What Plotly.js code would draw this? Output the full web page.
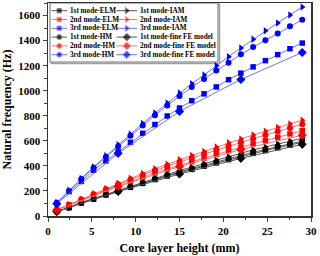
<!DOCTYPE html>
<html><head><meta charset="utf-8">
<script src="https://cdn.plot.ly/plotly-3.0.1.min.js"></script>
<style>html,body{margin:0;padding:0;background:#fff}#c{width:320px;height:256px}</style>
</head><body><div id="c"></div>
<script>
// ---- data ----
const coreHeight = [1,2.4,3.8,5.2,6.6,8,9.4,10.8,12.2,13.6,15,16.4,17.8,19.2,20.6,22,23.4,24.8,26.2,27.6,29];
const coreHeightFE = [1,8,15,22,29];

const mode1ELM = [36,66,104,135,168,198,229,260,291,319,346,372,398,424,450,475,500,522,545,566,588];
const mode1IAM = [37,68,108,140,175,206,239,272,305,335,363,390,418,446,473,500,528,551,576,598,620];
const mode1HM  = [36,67,106,137,171,201,233,265,296,325,352,378,405,431,457,483,509,531,555,576,598];
const mode1FE  = [35,195,335,460,572];

const mode2ELM = [48,88,128,166,204,241,276,310,343,374,404,434,463,492,521,548,575,602,629,655,681];
const mode2IAM = [50,92,136,178,220,262,302,340,378,414,448,482,515,550,584,615,646,676,707,734,765];
const mode2HM  = [49,90,132,173,213,253,291,328,364,398,431,463,495,527,558,588,617,646,675,702,732];
const mode2FE  = [47,235,395,530,645];

const mode3ELM = [100,195,276,365,440,512,588,660,730,798,862,920,975,1030,1088,1140,1190,1240,1288,1335,1380];
const mode3IAM = [105,205,300,392,480,568,652,738,822,902,982,1056,1125,1200,1272,1341,1410,1478,1541,1605,1669];
const mode3HM  = [103,200,295,385,470,555,640,722,805,882,957,1029,1093,1162,1224,1290,1349,1402,1456,1514,1567];
const mode3FE  = [98,500,835,1090,1305];

const seriesNames = ["1st mode-ELM","1st mode-IAM","2nd mode-ELM","2nd mode-IAM","3rd mode-ELM","3rd mode-IAM",
  "1st mode-HM","1st mode-fine FE model","2nd mode-HM","2nd mode-fine FE model","3rd mode-HM","3rd mode-fine FE model"];

// ---- styles ----
const markerCol = {1:"#000000",2:"#ff0000",3:"#0000ff"};
const lineCol = {1:"#555555",2:"#ff7070",3:"#7070ff"};
const sym = {ELM:"square",IAM:"triangle-right",HM:"circle",FE:"diamond"};
const msize = {ELM:5.5,IAM:6.5,HM:6,FE:7};

const defs = [
  [1,"ELM",coreHeight,mode1ELM],[1,"IAM",coreHeight,mode1IAM],
  [2,"ELM",coreHeight,mode2ELM],[2,"IAM",coreHeight,mode2IAM],
  [3,"ELM",coreHeight,mode3ELM],[3,"IAM",coreHeight,mode3IAM],
  [1,"HM",coreHeight,mode1HM],[1,"FE",coreHeightFE,mode1FE],
  [2,"HM",coreHeight,mode2HM],[2,"FE",coreHeightFE,mode2FE],
  [3,"HM",coreHeight,mode3HM],[3,"FE",coreHeightFE,mode3FE]
];

const traces = [];
defs.forEach((d,i)=>{
  traces.push({type:"scatter",mode:"lines+markers",name:seriesNames[i],x:d[2],y:d[3],
    line:{color:lineCol[d[0]],width:1},
    marker:{symbol:sym[d[1]],size:msize[d[1]],color:markerCol[d[0]]},
    showlegend:false,hoverinfo:"skip"});
});

// ---- custom compact legend on overlay axes (pixel-like coords) ----
const annotations = [];
const legRow0 = 10.7, legRowStep = 8.8;
const legCols = [{x0:51.5,x1:67,tx:68.5},{x0:116.5,x1:137,tx:138.5}];
defs.forEach((d,i)=>{
  const row = Math.floor(i/2), col = legCols[i%2];
  const yy = legRow0 + row*legRowStep;
  traces.push({type:"scatter",mode:"lines+markers",xaxis:"x2",yaxis:"y2",
    x:[col.x0,(col.x0+col.x1)/2,col.x1],y:[yy,yy,yy],
    line:{color:lineCol[d[0]],width:1},
    marker:{symbol:sym[d[1]],size:[0,msize[d[1]]-1,0],color:markerCol[d[0]]},
    showlegend:false,hoverinfo:"skip"});
  annotations.push({xref:"x2",yref:"y2",x:col.tx,y:yy,text:seriesNames[i],showarrow:false,
    xanchor:"left",yanchor:"middle",borderpad:0,
    font:{family:"Liberation Serif",size:7.2,color:"#000",weight:"bold"}});
});

const axisFont = {family:"Liberation Serif",size:11,color:"#000",weight:"bold"};
const layout = {
  width:320,height:256,
  margin:{l:48,r:9,t:3,b:40},
  paper_bgcolor:"#fff",plot_bgcolor:"#fff",
  showlegend:false,
  font:{family:"Liberation Serif"},
  xaxis:{range:[0,30],tickvals:[0,5,10,15,20,25,30],ticks:"outside",ticklen:4,tickwidth:1,
    minor:{dtick:2.5,tick0:0,ticks:"outside",ticklen:2.5,tickwidth:1},
    showline:true,linecolor:"#333",linewidth:1.5,mirror:true,showgrid:false,zeroline:false,
    tickfont:axisFont,
    title:{text:"Core layer height (mm)",font:{family:"Liberation Serif",size:12,color:"#000",weight:"bold"},standoff:8}},
  yaxis:{range:[0,1700],tickvals:[0,200,400,600,800,1000,1200,1400,1600],ticks:"outside",ticklen:4,tickwidth:1,
    minor:{dtick:100,tick0:0,ticks:"outside",ticklen:2.5,tickwidth:1},
    showline:true,linecolor:"#333",linewidth:1.5,mirror:true,showgrid:false,zeroline:false,
    tickfont:axisFont,
    title:{text:"Natural frequency (Hz)",font:{family:"Liberation Serif",size:12,color:"#000",weight:"bold"},standoff:6}},
  xaxis2:{overlaying:"x",anchor:"y2",range:[48,311],visible:false,fixedrange:true},
  yaxis2:{overlaying:"y",anchor:"x2",range:[216,3],visible:false,fixedrange:true},
  shapes:[
    {type:"rect",xref:"x2",yref:"y2",x0:51.5,x1:219.5,y0:4.5,y1:63.5,line:{color:"#a0a0a0",width:1.5},fillcolor:"rgba(0,0,0,0)",layer:"below"},
    {type:"rect",xref:"x2",yref:"y2",x0:50,x1:218,y0:3,y1:62,line:{color:"#707070",width:1},fillcolor:"#fff",layer:"below"}
  ],
  annotations:annotations
};
Plotly.newPlot("c",traces,layout,{displayModeBar:false,staticPlot:true});
</script></body></html>
